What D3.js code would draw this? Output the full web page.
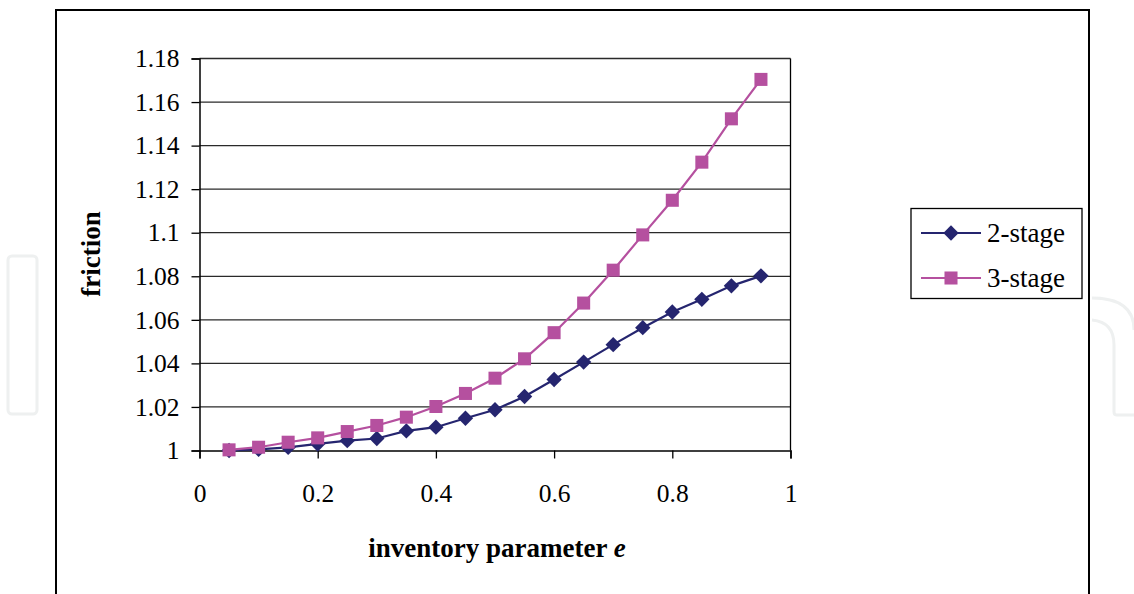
<!DOCTYPE html>
<html>
<head>
<meta charset="utf-8">
<script src="https://cdn.jsdelivr.net/npm/d3@7"></script>
<style>
  body { margin: 0; background: #fff; }
  svg { display: block; font-family: "Liberation Serif", "DejaVu Serif", serif; }
</style>
</head>
<body>
<script>
// data
const eValues = [0.05, 0.1, 0.15, 0.2, 0.25, 0.3, 0.35, 0.4, 0.45, 0.5,
                 0.55, 0.6, 0.65, 0.7, 0.75, 0.8, 0.85, 0.9, 0.95];
const twoStage = [1.000, 1.0005, 1.0014, 1.003, 1.0045, 1.0055, 1.009, 1.0107, 1.0148, 1.0187,
                  1.0248, 1.0326, 1.0406, 1.0486, 1.0564, 1.0636, 1.0694, 1.0756, 1.0802];
const threeStage = [1.0003, 1.0015, 1.0038, 1.0058, 1.0087, 1.0115, 1.0153, 1.0202, 1.0262, 1.0332,
                    1.0421, 1.0541, 1.0677, 1.0828, 1.0990, 1.1149, 1.1324, 1.1523, 1.1704];
const seriesNames = ["2-stage", "3-stage"];
const xTicks = [0, 0.2, 0.4, 0.6, 0.8, 1];
const yTicks = [1, 1.02, 1.04, 1.06, 1.08, 1.1, 1.12, 1.14, 1.16, 1.18];

const width = 1134, height = 594;
const colors = ["#25256f", "#b5509f"];

const svg = d3.select("body").append("svg")
    .attr("width", width)
    .attr("height", height);

// faint watermark fragments outside the chart box
svg.append("rect")
    .attr("x", 8).attr("y", 256).attr("width", 29).attr("height", 158).attr("rx", 4)
    .attr("fill", "none").attr("stroke", "#eef0f0").attr("stroke-width", 3);
svg.append("path")
    .attr("d", "M1092,298 Q1134,298 1134,330 M1092,320 Q1114,322 1114,345 L1114,412 Q1114,415 1117,415 L1134,415")
    .attr("fill", "none").attr("stroke", "#eef0f0").attr("stroke-width", 3);

// outer chart frame
svg.append("rect")
    .attr("x", 56).attr("y", 10).attr("width", 1033).attr("height", 600)
    .attr("fill", "#fff").attr("stroke", "#000").attr("stroke-width", 2);

const x = d3.scaleLinear().domain([0, 1]).range([199.5, 790.5]);
const y = d3.scaleLinear().domain([1, 1.18]).range([450.5, 58.5]);

// gridlines
svg.append("g")
  .selectAll("line")
  .data(yTicks.slice(1))
  .join("line")
    .attr("x1", x(0)).attr("x2", x(1))
    .attr("y1", d => y(d)).attr("y2", d => y(d))
    .attr("stroke", "#2a2a2a").attr("stroke-width", 1.3);

// right edge of plot area
svg.append("line")
    .attr("x1", x(1)).attr("x2", x(1)).attr("y1", y(1.18)).attr("y2", y(1))
    .attr("stroke", "#000").attr("stroke-width", 1.3);

const yAxis = svg.append("g")
    .attr("transform", `translate(${x(0)},0)`)
    .call(d3.axisLeft(y).tickValues(yTicks).tickSize(8).tickPadding(12).tickFormat(d3.format("")))
    .attr("font-family", null)
    .attr("font-size", 25.5);
yAxis.select(".domain").attr("stroke-width", 1.5);
yAxis.selectAll(".tick line").attr("stroke-width", 1.3);
yAxis.selectAll("text").attr("fill", "#000");

const xAxis = svg.append("g")
    .attr("transform", `translate(0,${y(1)})`)
    .call(d3.axisBottom(x).tickValues(xTicks).tickSize(8).tickPadding(25).tickFormat(d3.format("")))
    .attr("font-family", null)
    .attr("font-size", 25.5);
xAxis.select(".domain").attr("stroke-width", 1.5);
xAxis.selectAll(".tick line").attr("stroke-width", 1.3);
xAxis.selectAll("text").attr("fill", "#000");

const line = d3.line()
    .x(d => x(d[0]))
    .y(d => y(d[1]));

const series = [twoStage, threeStage].map(vals => eValues.map((e, i) => [e, vals[i]]));
const diamond = d3.symbol().type(d3.symbolDiamond2).size(150);
const square = d3.symbol().type(d3.symbolSquare).size(170);
const symbols = [diamond, square];

series.forEach((pts, k) => {
  svg.append("path")
      .datum(pts)
      .attr("d", line)
      .attr("fill", "none")
      .attr("stroke", colors[k])
      .attr("stroke-width", 2.2);
  svg.append("g")
    .selectAll("path")
    .data(pts)
    .join("path")
      .attr("transform", d => `translate(${x(d[0])},${y(d[1])})`)
      .attr("d", symbols[k])
      .attr("fill", colors[k]);
});

// axis titles
svg.append("text")
    .attr("transform", "translate(100,254) rotate(-90)")
    .attr("text-anchor", "middle")
    .attr("font-size", 27)
    .attr("font-weight", "bold")
    .text("friction");

const xt = svg.append("text")
    .attr("x", 497).attr("y", 557)
    .attr("text-anchor", "middle")
    .attr("font-size", 27)
    .attr("font-weight", "bold");
xt.append("tspan").text("inventory parameter ");
xt.append("tspan").attr("font-style", "italic").text("e");

// legend
const legend = svg.append("g");
legend.append("rect")
    .attr("x", 911).attr("y", 208.5).attr("width", 171).attr("height", 90)
    .attr("fill", "#fff").attr("stroke", "#000").attr("stroke-width", 1.3);
seriesNames.forEach((name, k) => {
  const ly = 233 + k * 45;
  legend.append("line")
      .attr("x1", 921).attr("x2", 981).attr("y1", ly).attr("y2", ly)
      .attr("stroke", colors[k]).attr("stroke-width", 2.2);
  legend.append("path")
      .attr("transform", `translate(951,${ly})`)
      .attr("d", symbols[k])
      .attr("fill", colors[k]);
  legend.append("text")
      .attr("x", 987).attr("y", ly + 9)
      .attr("font-size", 27)
      .text(name);
});
</script>
</body>
</html>
